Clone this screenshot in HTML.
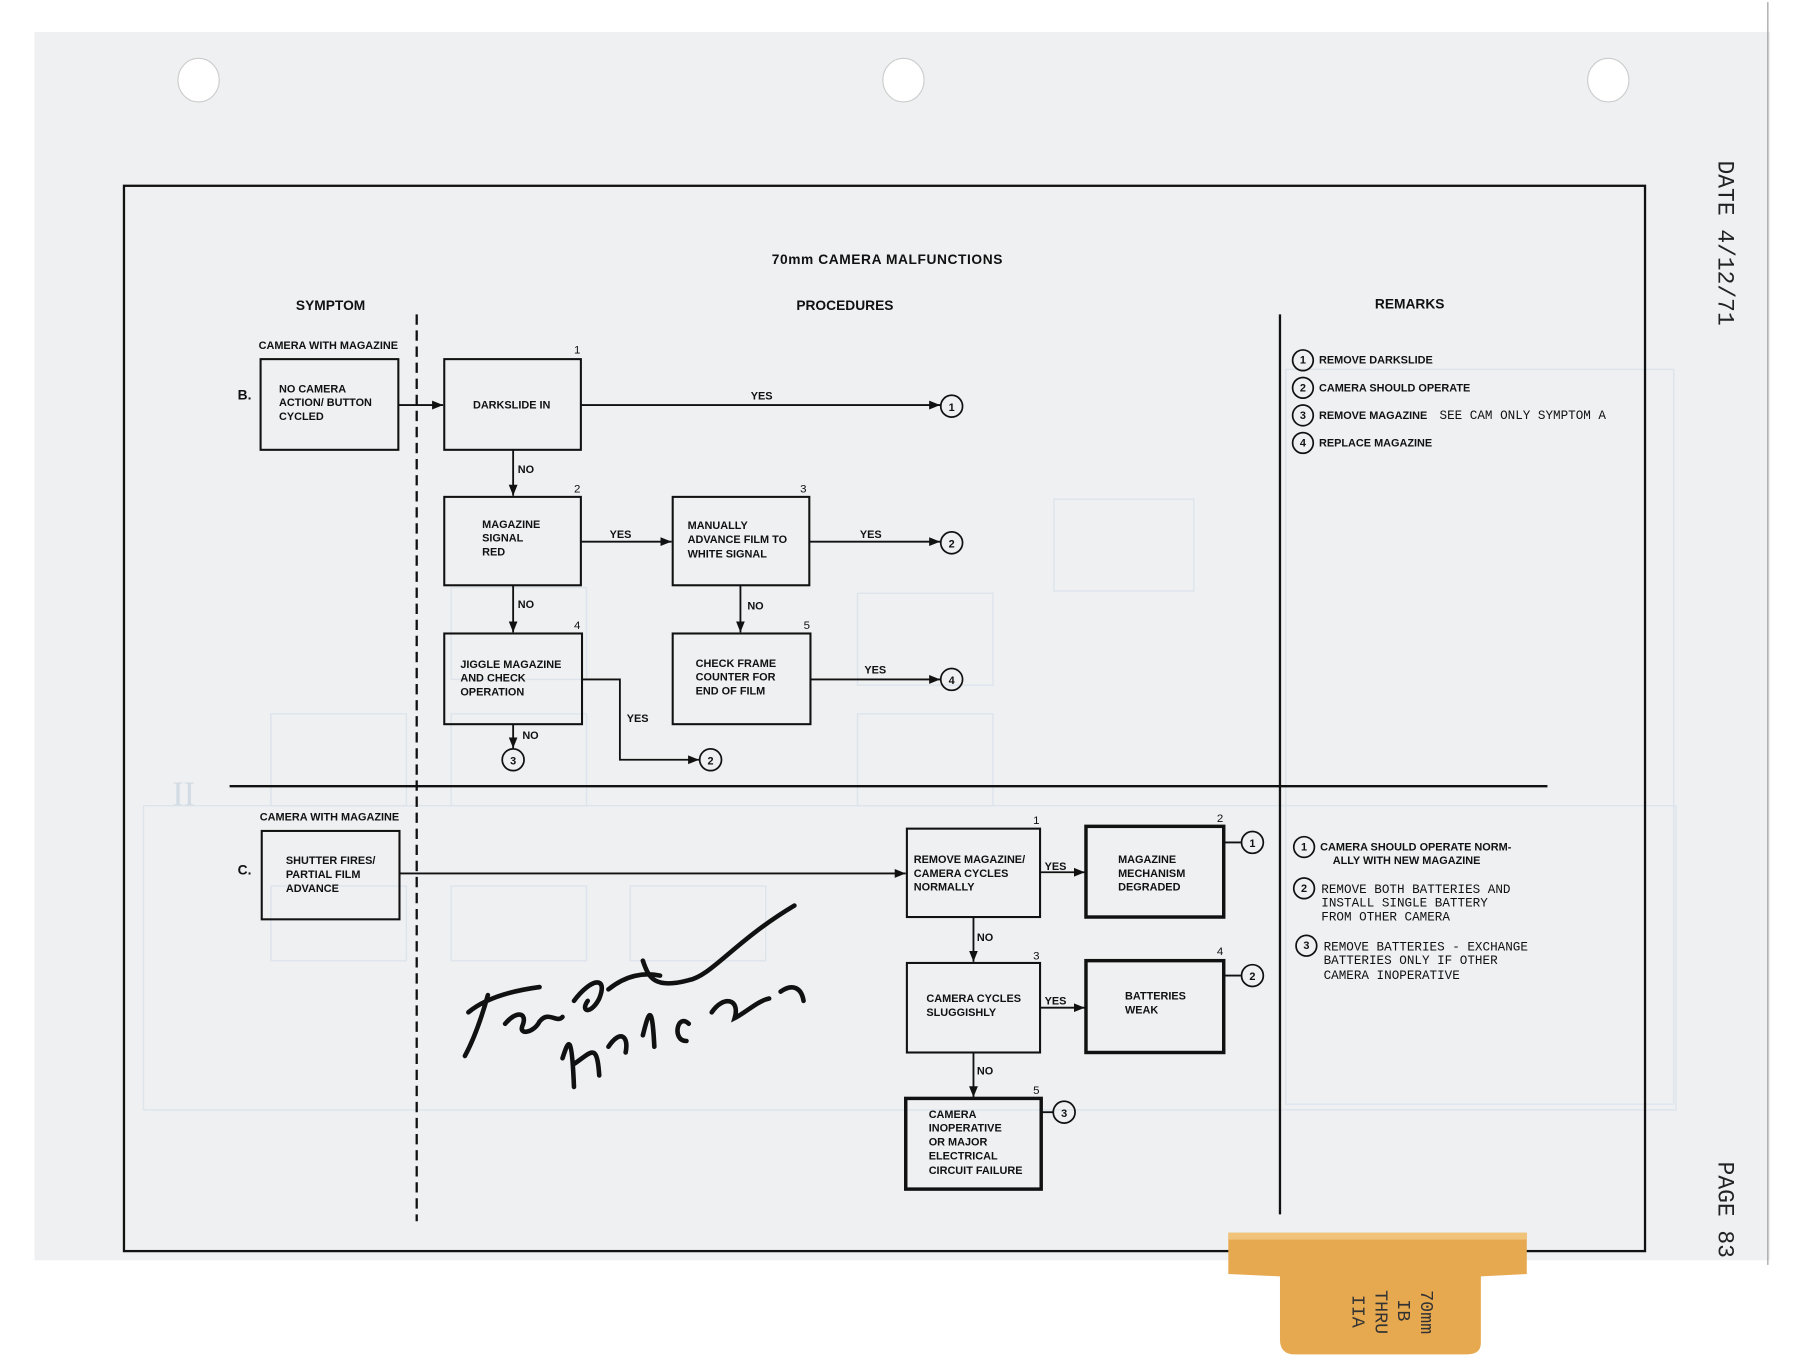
<!DOCTYPE html>
<html><head><meta charset="utf-8"><style>
html,body{margin:0;padding:0;background:#fff;}
svg{display:block;}
.b{font-family:"Liberation Sans",sans-serif;font-weight:bold;font-size:9.5px;fill:#111;}
.h{font-family:"Liberation Sans",sans-serif;font-weight:bold;font-size:12px;fill:#111;}
.m{font-family:"Liberation Mono",monospace;font-size:11px;fill:#111;}
.n{font-family:"Liberation Sans",sans-serif;font-size:10px;fill:#111;}
.ln{stroke:#111;stroke-width:1.6;fill:none;}
.bx{stroke:#111;stroke-width:1.8;fill:none;}
.tk{stroke:#111;stroke-width:3;fill:none;}
.c{stroke:#111;stroke-width:1.5;fill:none;}
.g{stroke:#dde4ec;stroke-width:1.2;fill:none;}
</style></head><body>
<svg width="1800" height="1368" viewBox="0 0 1568 1188" xmlns="http://www.w3.org/2000/svg">
<defs><marker id="a" viewBox="0 0 10 10" refX="10" refY="5" markerWidth="6" markerHeight="6" orient="auto"><path d="M0,1 L10,5 L0,9 z" fill="#111"/></marker></defs>
<rect x="0" y="0" width="1568" height="1188" fill="#fff"/>
<rect x="30" y="26" width="1512" height="1070" fill="#eef0f1"/>
<line x1="1540" y1="0" x2="1540" y2="1100" stroke="#999" stroke-width="1"/>
<ellipse cx="173" cy="68" rx="18" ry="19" fill="#fff" stroke="#ccc"/>
<ellipse cx="787" cy="68" rx="18" ry="19" fill="#fff" stroke="#ccc"/>
<ellipse cx="1401" cy="68" rx="18" ry="19" fill="#fff" stroke="#ccc"/>
<!-- faint bleed-through -->
<rect x="1120" y="320" width="338" height="640" class="g"/>
<rect x="125" y="700" width="1335" height="265" class="g"/>
<rect x="236" y="620" width="118" height="80" class="g"/>
<rect x="393" y="620" width="118" height="80" class="g"/>
<rect x="747" y="515" width="118" height="80" class="g"/>
<rect x="747" y="620" width="118" height="80" class="g"/>
<rect x="918" y="433" width="122" height="80" class="g"/>
<rect x="393" y="510" width="118" height="80" class="g"/>
<rect x="236" y="770" width="118" height="65" class="g"/>
<rect x="393" y="770" width="118" height="65" class="g"/>
<rect x="549" y="770" width="118" height="65" class="g"/>
<text x="150" y="700" font-family="Liberation Serif" font-size="30" fill="#d3dbe4">II</text>
<!-- frame -->
<rect x="108" y="160" width="1325" height="928" fill="none" stroke="#111" stroke-width="2"/>
<text x="773" y="228" class="h" font-size="17" text-anchor="middle" letter-spacing="0.5">70mm CAMERA MALFUNCTIONS</text>
<text x="288" y="268" class="h" text-anchor="middle">SYMPTOM</text>
<text x="736" y="268" class="h" text-anchor="middle">PROCEDURES</text>
<text x="1228" y="267" class="h" text-anchor="middle">REMARKS</text>
<line x1="363" y1="272" x2="363" y2="1062" stroke="#111" stroke-width="2" stroke-dasharray="9,5"/>
<line x1="1115" y1="272" x2="1115" y2="1056" stroke="#111" stroke-width="2"/>
<line x1="200" y1="683" x2="1348" y2="683" stroke="#111" stroke-width="2"/>
<!-- section B -->
<text x="286" y="302" class="b" text-anchor="middle" font-size="9">CAMERA WITH MAGAZINE</text>
<text x="207" y="346" class="h">B.</text>
<rect x="227" y="311" width="120" height="79" class="bx"/>
<text x="243" y="340" class="b">NO CAMERA</text><text x="243" y="352" class="b">ACTION/ BUTTON</text><text x="243" y="364" class="b">CYCLED</text>
<rect x="387" y="311" width="119" height="79" class="bx"/><text x="500" y="306" class="n">1</text>
<text x="412" y="354" class="b">DARKSLIDE IN</text>
<rect x="387" y="431" width="119" height="77" class="bx"/><text x="500" y="427" class="n">2</text>
<text x="420" y="458" class="b">MAGAZINE</text><text x="420" y="470" class="b">SIGNAL</text><text x="420" y="482" class="b">RED</text>
<rect x="586" y="431" width="119" height="77" class="bx"/><text x="697" y="427" class="n">3</text>
<text x="599" y="459" class="b">MANUALLY</text><text x="599" y="471" class="b">ADVANCE FILM TO</text><text x="599" y="484" class="b">WHITE SIGNAL</text>
<rect x="387" y="550" width="120" height="79" class="bx"/><text x="500" y="546" class="n">4</text>
<text x="401" y="580" class="b">JIGGLE MAGAZINE</text><text x="401" y="592" class="b">AND CHECK</text><text x="401" y="604" class="b">OPERATION</text>
<rect x="586" y="550" width="120" height="79" class="bx"/><text x="700" y="546" class="n">5</text>
<text x="606" y="579" class="b">CHECK FRAME</text><text x="606" y="591" class="b">COUNTER FOR</text><text x="606" y="603" class="b">END OF FILM</text>
<line x1="347" y1="351" x2="386" y2="351" class="ln" marker-end="url(#a)"/>
<line x1="506" y1="351" x2="819" y2="351" class="ln" marker-end="url(#a)"/>
<line x1="447" y1="390" x2="447" y2="430" class="ln" marker-end="url(#a)"/>
<line x1="447" y1="508" x2="447" y2="549" class="ln" marker-end="url(#a)"/>
<line x1="447" y1="629" x2="447" y2="650" class="ln" marker-end="url(#a)"/>
<line x1="506" y1="470" x2="585" y2="470" class="ln" marker-end="url(#a)"/>
<line x1="705" y1="470" x2="819" y2="470" class="ln" marker-end="url(#a)"/>
<line x1="645" y1="508" x2="645" y2="549" class="ln" marker-end="url(#a)"/>
<line x1="706" y1="590" x2="819" y2="590" class="ln" marker-end="url(#a)"/>
<polyline points="507,590 540,590 540,660 609,660" class="ln" marker-end="url(#a)"/>
<circle cx="829" cy="352" r="9.5" class="c"/><text x="829" y="356" class="b" text-anchor="middle">1</text>
<circle cx="829" cy="471" r="9.5" class="c"/><text x="829" y="475" class="b" text-anchor="middle">2</text>
<circle cx="829" cy="590" r="9.5" class="c"/><text x="829" y="594" class="b" text-anchor="middle">4</text>
<circle cx="447" cy="660" r="9.5" class="c"/><text x="447" y="664" class="b" text-anchor="middle">3</text>
<circle cx="619" cy="660" r="9.5" class="c"/><text x="619" y="664" class="b" text-anchor="middle">2</text>
<text x="654" y="346" class="b">YES</text><text x="451" y="410" class="b">NO</text>
<text x="531" y="467" class="b">YES</text><text x="749" y="467" class="b">YES</text>
<text x="451" y="528" class="b">NO</text><text x="651" y="529" class="b">NO</text>
<text x="753" y="585" class="b">YES</text><text x="455" y="642" class="b">NO</text>
<text x="546" y="627" class="b">YES</text>
<!-- remarks B -->
<g class="b" font-size="9">
<circle cx="1135" cy="312" r="9" class="c"/><text x="1135" y="315" text-anchor="middle">1</text><text x="1149" y="315">REMOVE DARKSLIDE</text>
<circle cx="1135" cy="336" r="9" class="c"/><text x="1135" y="339" text-anchor="middle">2</text><text x="1149" y="339">CAMERA SHOULD OPERATE</text>
<circle cx="1135" cy="360" r="9" class="c"/><text x="1135" y="363" text-anchor="middle">3</text><text x="1149" y="363">REMOVE MAGAZINE</text>
<circle cx="1135" cy="384" r="9" class="c"/><text x="1135" y="387" text-anchor="middle">4</text><text x="1149" y="387">REPLACE MAGAZINE</text>
</g>
<text x="1254" y="363" class="m" font-size="10.5">SEE CAM ONLY SYMPTOM A</text>
<!-- section C -->
<text x="287" y="713" class="b" text-anchor="middle" font-size="9">CAMERA WITH MAGAZINE</text>
<text x="207" y="760" class="h">C.</text>
<rect x="228" y="722" width="120" height="77" class="bx"/>
<text x="249" y="751" class="b">SHUTTER FIRES/</text><text x="249" y="763" class="b">PARTIAL FILM</text><text x="249" y="775" class="b">ADVANCE</text>
<rect x="790" y="720" width="116" height="77" class="bx"/><text x="900" y="716" class="n">1</text>
<text x="796" y="750" class="b">REMOVE MAGAZINE/</text><text x="796" y="762" class="b">CAMERA CYCLES</text><text x="796" y="774" class="b">NORMALLY</text>
<rect x="946" y="718" width="120" height="79" class="tk"/><text x="1060" y="714" class="n">2</text>
<text x="974" y="750" class="b">MAGAZINE</text><text x="974" y="762" class="b">MECHANISM</text><text x="974" y="774" class="b">DEGRADED</text>
<rect x="790" y="837" width="116" height="78" class="bx"/><text x="900" y="834" class="n">3</text>
<text x="807" y="871" class="b">CAMERA CYCLES</text><text x="807" y="883" class="b">SLUGGISHLY</text>
<rect x="946" y="835" width="120" height="80" class="tk"/><text x="1060" y="830" class="n">4</text>
<text x="980" y="869" class="b">BATTERIES</text><text x="980" y="881" class="b">WEAK</text>
<rect x="789" y="955" width="118" height="79" class="tk"/><text x="900" y="951" class="n">5</text>
<text x="809" y="972" class="b">CAMERA</text><text x="809" y="984" class="b">INOPERATIVE</text><text x="809" y="996" class="b">OR MAJOR</text><text x="809" y="1008" class="b">ELECTRICAL</text><text x="809" y="1021" class="b">CIRCUIT FAILURE</text>
<line x1="348" y1="759" x2="789" y2="759" class="ln" marker-end="url(#a)"/>
<line x1="906" y1="758" x2="945" y2="758" class="ln" marker-end="url(#a)"/>
<line x1="848" y1="797" x2="848" y2="836" class="ln" marker-end="url(#a)"/>
<line x1="906" y1="876" x2="945" y2="876" class="ln" marker-end="url(#a)"/>
<line x1="848" y1="915" x2="848" y2="954" class="ln" marker-end="url(#a)"/>
<line x1="1066" y1="732" x2="1081" y2="732" class="ln"/>
<line x1="1066" y1="848" x2="1081" y2="848" class="ln"/>
<line x1="907" y1="967" x2="917" y2="967" class="ln"/>
<circle cx="1091" cy="732" r="9.5" class="c"/><text x="1091" y="736" class="b" text-anchor="middle">1</text>
<circle cx="1091" cy="848" r="9.5" class="c"/><text x="1091" y="852" class="b" text-anchor="middle">2</text>
<circle cx="927" cy="967" r="9.5" class="c"/><text x="927" y="971" class="b" text-anchor="middle">3</text>
<text x="910" y="756" class="b">YES</text><text x="851" y="818" class="b">NO</text>
<text x="910" y="873" class="b">YES</text><text x="851" y="934" class="b">NO</text>
<!-- remarks C -->
<circle cx="1136" cy="736" r="9" class="c"/><text x="1136" y="739" class="b" text-anchor="middle">1</text>
<text x="1150" y="739" class="b" font-size="9">CAMERA SHOULD OPERATE NORM-</text><text x="1161" y="751" class="b" font-size="9">ALLY WITH NEW MAGAZINE</text>
<circle cx="1136" cy="772" r="9" class="c"/><text x="1136" y="775" class="b" text-anchor="middle">2</text>
<text x="1151" y="776" class="m">REMOVE BOTH BATTERIES AND</text><text x="1151" y="788" class="m">INSTALL SINGLE BATTERY</text><text x="1151" y="800" class="m">FROM OTHER CAMERA</text>
<circle cx="1138" cy="822" r="9" class="c"/><text x="1138" y="825" class="b" text-anchor="middle">3</text>
<text x="1153" y="826" class="m">REMOVE BATTERIES - EXCHANGE</text><text x="1153" y="838" class="m">BATTERIES ONLY IF OTHER</text><text x="1153" y="851" class="m">CAMERA INOPERATIVE</text>
<!-- signature -->
<g stroke="#111" stroke-width="4" fill="none" stroke-linecap="round">
<path d="M408,880 C420,870 440,862 470,858 M425,865 C418,890 412,905 405,918"/>
<path d="M440,890 C450,878 460,880 455,892 C452,900 465,898 470,888 C478,878 485,890 490,884"/>
<path d="M500,870 C515,850 530,848 522,868 C515,882 505,880 512,870 M530,860 C545,848 560,845 575,848"/>
<path d="M560,835 C565,850 570,860 600,852 C620,848 640,818 692,787"/>
<path d="M490,920 C495,905 498,895 500,945 M500,925 C515,915 520,905 522,935 M530,910 C540,895 548,900 545,915"/>
<path d="M560,900 C565,880 568,870 570,910 M600,890 C590,880 585,905 598,905 M620,880 C630,865 645,868 640,885 C650,880 660,870 670,868"/>
<path d="M680,862 C690,855 698,858 700,870"/>
</g>
<!-- side text -->
<text transform="translate(1497,138) rotate(90)" font-family="Liberation Mono" font-size="20" fill="#222">DATE 4/12/71</text>
<text transform="translate(1497,1010) rotate(90)" font-family="Liberation Mono" font-size="20" fill="#222">PAGE 83</text>
<!-- tab -->
<path d="M1070,1072 L1330,1072 L1330,1108 L1290,1110 L1290,1168 Q1290,1178 1278,1178 L1128,1178 Q1115,1178 1115,1165 L1115,1110 L1070,1108 z" fill="#e7a94f"/>
<rect x="1070" y="1072" width="260" height="6" fill="#f0c27a"/>
<g font-family="Liberation Mono" font-size="16" fill="#333">
<text transform="translate(1238,1122) rotate(90)">70mm</text>
<text transform="translate(1218,1130) rotate(90)">IB</text>
<text transform="translate(1198,1122) rotate(90)">THRU</text>
<text transform="translate(1178,1126) rotate(90)">IIA</text>
</g>
</svg>
</body></html>
